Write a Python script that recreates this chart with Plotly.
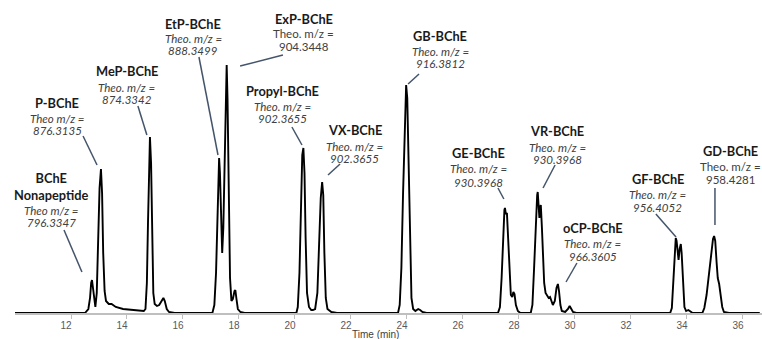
import plotly.graph_objects as go

# ---- chromatogram trace (time in min, intensity in arbitrary units) ----
time_min = [
    10.0, 12.50, 12.62, 12.68, 12.72, 12.75, 12.79, 12.84, 12.87, 12.92, 12.97, 13.02, 13.07, 13.11,
    13.15, 13.20, 13.25, 13.35, 13.45, 13.60, 13.86, 14.20, 14.46, 14.60,
    14.66, 14.71, 14.75, 14.79, 14.82, 14.86, 14.90, 14.94, 14.99, 15.07, 15.15, 15.22, 15.30, 15.35,
    15.42, 15.50, 15.70,
    17.05, 17.12, 17.18, 17.23, 17.27, 17.29, 17.32, 17.36, 17.40, 17.44, 17.49, 17.53, 17.56, 17.59,
    17.63, 17.68, 17.73, 17.78, 17.84, 17.87, 17.91, 17.96, 18.05, 18.20,
    20.05, 20.10, 20.16, 20.21, 20.26, 20.30, 20.34, 20.38, 20.43, 20.50, 20.58, 20.64,
    20.72, 20.80, 20.86, 20.92, 20.97, 21.01, 21.05, 21.10, 21.16, 21.30, 21.50,
    23.68, 23.74, 23.80, 23.86, 23.92, 23.97, 24.01, 24.06, 24.11, 24.16, 24.22, 24.30, 24.40, 24.47,
    24.55, 24.70,
    27.25, 27.32, 27.38, 27.43, 27.48, 27.50, 27.53, 27.57, 27.61, 27.66, 27.71, 27.76, 27.80, 27.84,
    27.89, 27.96, 28.05,
    28.42, 28.48, 28.54, 28.60, 28.65, 28.67, 28.70, 28.73, 28.76, 28.78, 28.82, 28.86, 28.90, 28.95,
    29.00, 29.06, 29.11, 29.16, 29.21, 29.28, 29.34, 29.39, 29.43, 29.48, 29.53, 29.65, 29.75, 29.81,
    29.86, 29.93, 30.05,
    33.40, 33.46, 33.51, 33.56, 33.60, 33.63, 33.67, 33.70, 33.74, 33.78, 33.81, 33.86, 33.91, 33.97,
    34.05, 34.10, 34.20,
    34.55, 34.62, 34.70, 34.78, 34.86, 34.93, 34.97, 35.01, 35.06, 35.10, 35.15, 35.20, 35.26, 35.32,
    35.50, 36.60,
]
intensity = [
    0, 0, 4, 15, 30, 33, 24, 8, 6, 20, 70, 125, 144, 120,
    60, 22, 12, 9, 9, 6, 4, 3, 2, 2,
    4, 30, 90, 160, 176, 150, 70, 20, 9, 7, 8, 11, 15, 12,
    4, 1, 0,
    0, 8, 40, 100, 148, 155, 140, 90, 60, 85, 170, 235, 248, 215,
    120, 35, 12, 14, 22, 23, 14, 4, 1, 0,
    0, 6, 40, 110, 158, 165, 140, 75, 20, 6, 3, 3,
    4, 20, 65, 115, 131, 118, 60, 15, 4, 1, 0,
    0, 8, 45, 120, 195, 228, 215, 140, 55, 15, 4, 2, 4, 3,
    1, 0,
    0, 6, 35, 80, 103, 105, 99, 100, 75, 35, 18, 16, 21, 19,
    8, 2, 0,
    0, 8, 45, 95, 118, 121, 112, 95, 106, 108, 85, 50, 30, 20,
    18, 15, 16, 11, 8, 12, 25, 29, 22, 8, 2, 1, 4, 7,
    5, 1, 0,
    0, 5, 30, 62, 75, 72, 57, 53, 64, 69, 60, 25, 6, 2,
    3, 2, 0,
    0, 5, 18, 40, 62, 74, 77, 72, 50, 35, 29, 18, 6, 1,
    0, 0,
]

# ---- x axis ticks ----
tick_vals = [12, 14, 16, 18, 20, 22, 24, 26, 28, 30, 32, 34, 36]
tick_text = [str(v) for v in tick_vals]
x_title = "Time (min)"

# ---- peak labels ----
label_names = ["BChE<br>Nonapeptide", "P-BChE", "MeP-BChE", "EtP-BChE", "ExP-BChE", "Propyl-BChE",
               "VX-BChE", "GB-BChE", "GE-BChE", "VR-BChE", "oCP-BChE", "GF-BChE", "GD-BChE"]
label_theo = ["Theo m/z =", "Theo m/z =", "Theo. m/z =", "Theo. m/z =", "Theo. m/z =", "Theo. m/z =",
              "Theo. m/z =", "Theo. m/z =", "Theo. m/z =", "Theo. m/z =", "Theo. m/z =", "Theo. m/z =",
              "Theo. m/z ="]
label_mz = ["796.3347", "876.3135", "874.3342", "888.3499", "904.3448", "902.3655",
            "902.3655", "916.3812", "930.3968", "930.3968", "966.3605", "956.4052", "958.4281"]
label_italic = [True, True, True, True, False, True, True, True, True, True, True, True, False]
# label layout (centre x in min; title / line1 / line2 y in intensity units)
label_x = [11.29, 11.50, 14.00, 16.36, 20.32, 19.57, 22.14, 25.18, 26.54, 29.36, 30.64, 32.96, 35.54]
label_title_y = [126.5, 210, 242, 289, 294, 222, 183, 277, 160, 182, 85, 134, 162]
label_l1_y = [103, 195, 226, 275, 279.5, 207, 167, 261.5, 145, 166, 70, 119, 147]
label_l2_y = [91, 183, 214, 263, 267, 195, 155, 249.5, 131, 154, 57, 106, 134]
# leader lines (x0, y0, x1, y1)
leader_x0 = [11.75, 12.43, 14.39, 16.57, 19.57, 19.89, 21.61, 24.43, 27.25, 29.29, 30.07, 32.89, 35.0]
leader_y0 = [83, 177, 207, 256, 258, 186, 149, 239, 125, 148, 50, 99, 125]
leader_x1 = [12.39, 12.93, 14.71, 17.25, 18.04, 20.25, 21.18, 24.04, 27.46, 28.86, 29.68, 33.61, 35.0]
leader_y1 = [41, 148, 178, 158, 247, 168, 138, 229, 114, 125, 31, 76, 88]

fig = go.Figure()
fig.add_trace(go.Scatter(x=time_min, y=intensity, mode="lines",
                         line=dict(color="#000000", width=1.9), hoverinfo="skip", showlegend=False))

TITLE_FONT = dict(family="Lato, 'Open Sans', sans-serif", size=12.8, color="#1a1a1a")
SUB_FONT = dict(family="Lato, 'Open Sans', sans-serif", size=11.5, color="#404040")

annotations = []
shapes = []
for i in range(len(label_names)):
    annotations.append(dict(x=label_x[i], y=label_title_y[i], xref="x", yref="y",
                            text="<b>" + label_names[i] + "</b>", showarrow=False,
                            font=TITLE_FONT, xanchor="center", yanchor="middle"))
    for txt, yy in ((label_theo[i], label_l1_y[i]), (label_mz[i], label_l2_y[i])):
        t = "<i>" + txt + "</i>" if label_italic[i] else txt
        annotations.append(dict(x=label_x[i], y=yy, xref="x", yref="y", text=t, showarrow=False,
                                font=SUB_FONT, xanchor="center", yanchor="middle"))
    shapes.append(dict(type="line", xref="x", yref="y", x0=leader_x0[i], y0=leader_y0[i],
                       x1=leader_x1[i], y1=leader_y1[i], line=dict(color="#44546a", width=1.5)))

annotations.append(dict(x=0.482, y=-0.069, xref="paper", yref="paper", text=x_title, showarrow=False,
                        xanchor="center", yanchor="middle",
                        font=dict(family="Liberation Sans, Arial, sans-serif", size=10, color="#404040")))

fig.update_layout(
    width=762, height=339,
    margin=dict(l=15, r=0, t=0, b=26),
    paper_bgcolor="white", plot_bgcolor="white",
    annotations=annotations, shapes=shapes,
    xaxis=dict(range=[10.0, 36.68], tickvals=tick_vals, ticktext=tick_text,
               showgrid=False, zeroline=False, showline=True, linecolor="#bfbfbf", linewidth=2,
               ticks="outside", ticklen=4, tickcolor="#bfbfbf", tickwidth=1,
               ticklabelshift=-5, ticklabelstandoff=-2, automargin=False,
               tickfont=dict(family="Liberation Sans, Arial, sans-serif", size=10, color="#595959")),
    yaxis=dict(range=[0, 313], visible=False, showgrid=False, zeroline=False),
)

# remove the page's default body margin so the 762x339 figure fills the window exactly
fig.write_html("out.html", config={"displayModeBar": False},
               post_script="document.body.style.margin='0';document.body.style.overflow='hidden';")
